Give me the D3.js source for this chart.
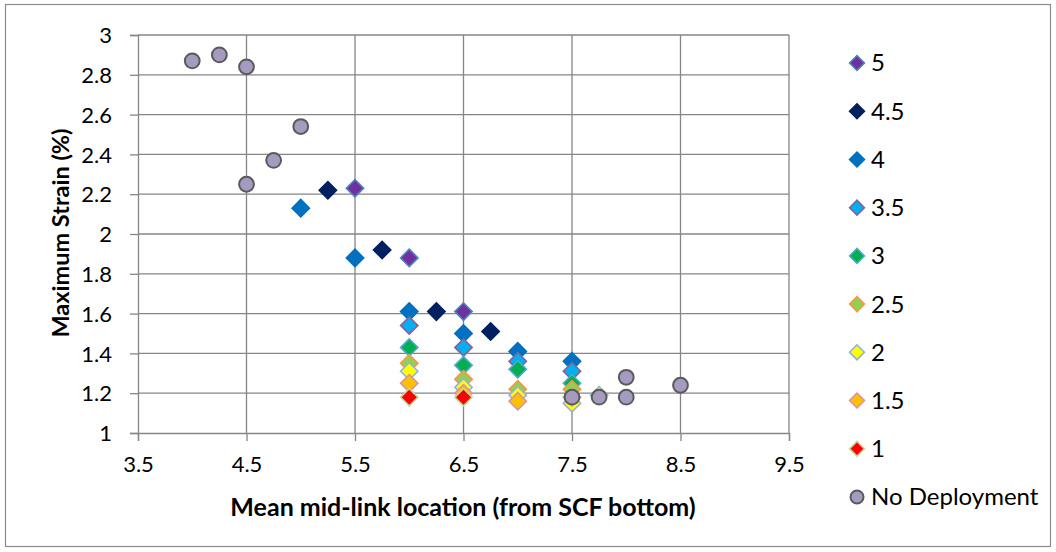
<!DOCTYPE html>
<html>
<head>
<meta charset="utf-8">
<script src="https://cdn.jsdelivr.net/npm/d3@7"></script>
<style>
  html, body { margin: 0; padding: 0; background: #fff; }
  svg { display: block; font-family: Lato, "Liberation Sans", sans-serif; }
</style>
</head>
<body>
<svg id="chart" width="1056" height="552"></svg>
<script>
// ---- data ----
const seriesNames = ["5", "4.5", "4", "3.5", "3", "2.5", "2", "1.5", "1", "No Deployment"];

const s5_x = [5.5, 6.0, 6.5];
const s5_y = [2.23, 1.88, 1.61];
const s45_x = [5.25, 5.75, 6.25, 6.75];
const s45_y = [2.22, 1.92, 1.61, 1.51];
const s4_x = [5.0, 5.5, 6.0, 6.5, 7.0, 7.5];
const s4_y = [2.13, 1.88, 1.61, 1.50, 1.41, 1.36];
const s35_x = [6.0, 6.5, 7.0, 7.5];
const s35_y = [1.54, 1.43, 1.36, 1.31];
const s3_x = [6.0, 6.5, 7.0, 7.5];
const s3_y = [1.43, 1.34, 1.32, 1.25];
const s25_x = [6.0, 6.5, 7.0, 7.5];
const s25_y = [1.35, 1.27, 1.22, 1.22];
const s2_x = [6.0, 6.5, 7.0, 7.5, 7.75];
const s2_y = [1.31, 1.23, 1.19, 1.15, 1.19];
const s15_x = [6.0, 6.5, 7.0, 7.5];
const s15_y = [1.25, 1.20, 1.16, 1.18];
const s1_x = [6.0, 6.5];
const s1_y = [1.18, 1.18];
const nd_x = [4.0, 4.25, 4.5, 4.5, 4.75, 5.0, 7.5, 7.75, 8.0, 8.0, 8.5];
const nd_y = [2.87, 2.90, 2.84, 2.25, 2.37, 2.54, 1.18, 1.18, 1.28, 1.18, 1.24];

const xTicks = [3.5, 4.5, 5.5, 6.5, 7.5, 8.5, 9.5];
const yTicks = [1, 1.2, 1.4, 1.6, 1.8, 2, 2.2, 2.4, 2.6, 2.8, 3];

const xTitle = "Mean mid-link location (from SCF bottom)";
const yTitle = "Maximum Strain (%)";

// ---- styles ----
const styles = [
  { fill: "#7030A0", stroke: "#4F81BD", shape: "diamond" },
  { fill: "#002060", stroke: "#002060", shape: "diamond" },
  { fill: "#0070C0", stroke: "#0070C0", shape: "diamond" },
  { fill: "#00B0F0", stroke: "#8064A2", shape: "diamond" },
  { fill: "#00B050", stroke: "#4BACC6", shape: "diamond" },
  { fill: "#92D050", stroke: "#F79646", shape: "diamond" },
  { fill: "#FFFF00", stroke: "#95B3D7", shape: "diamond" },
  { fill: "#FFC000", stroke: "#D99694", shape: "diamond" },
  { fill: "#FF0000", stroke: "#C3D69B", shape: "diamond" },
  { fill: "#A59BC1", stroke: "#5A5A5A", shape: "circle" }
];

const seriesX = [s5_x, s45_x, s4_x, s35_x, s3_x, s25_x, s2_x, s15_x, s1_x, nd_x];
const seriesY = [s5_y, s45_y, s4_y, s35_y, s3_y, s25_y, s2_y, s15_y, s1_y, nd_y];
const series = seriesNames.map((name, i) => ({
  name, style: styles[i],
  points: seriesX[i].map((x, j) => ({ x, y: seriesY[i][j] }))
}));

// ---- layout ----
const svg = d3.select("#chart");
const plot = { left: 138, right: 789, top: 35, bottom: 433 };

const x = d3.scaleLinear().domain([3.5, 9.5]).range([plot.left, plot.right]);
const y = d3.scaleLinear().domain([1, 3]).range([plot.bottom, plot.top]);

// outer border
svg.append("rect")
  .attr("x", 5.5).attr("y", 4.5).attr("width", 1045).attr("height", 542)
  .attr("fill", "#fff").attr("stroke", "#8c8c8c").attr("stroke-width", 1.2);

const gridColor = "#868686";

// gridlines
svg.append("g").selectAll("line.h").data(yTicks.slice(1)).join("line")
  .attr("x1", plot.left).attr("x2", plot.right)
  .attr("y1", d => y(d)).attr("y2", d => y(d))
  .attr("stroke", gridColor).attr("stroke-width", 1.3);
svg.append("g").selectAll("line.v").data(xTicks.slice(1)).join("line")
  .attr("y1", plot.top).attr("y2", plot.bottom)
  .attr("x1", d => x(d)).attr("x2", d => x(d))
  .attr("stroke", gridColor).attr("stroke-width", 1.3);

// axes
const yAxis = d3.axisLeft(y).tickValues(yTicks).tickSize(8).tickPadding(18)
  .tickFormat(d => d3.format("")(+d.toFixed(1)));
const xAxis = d3.axisBottom(x).tickValues(xTicks).tickSize(8).tickPadding(15)
  .tickFormat(d => d.toFixed(1));

const gy = svg.append("g").attr("transform", `translate(${plot.left},0)`).call(yAxis);
const gx = svg.append("g").attr("transform", `translate(0,${plot.bottom})`).call(xAxis);
[gx, gy].forEach(g => {
  g.select(".domain").attr("stroke", gridColor).attr("stroke-width", 1.3);
  g.selectAll(".tick line").attr("stroke", gridColor).attr("stroke-width", 1.3);
  g.selectAll(".tick text").attr("fill", "#000").style("font-size", "22px")
    .style("font-family", "Lato, 'Liberation Sans', sans-serif");
});
gy.selectAll(".tick text").attr("dy", "0.35em");

// axis titles
svg.append("text").text(xTitle)
  .attr("x", 463).attr("y", 516).attr("text-anchor", "middle")
  .style("font-size", "25px").style("font-weight", "bold").attr("fill", "#000");
svg.append("text").text(yTitle)
  .attr("transform", "translate(69,233) rotate(-90)").attr("text-anchor", "middle")
  .style("font-size", "23.5px").style("font-weight", "bold").attr("fill", "#000");

// markers
const diamondSize = 150;
const diamond = d3.symbol().type(d3.symbolSquare).size(diamondSize);
const marks = svg.append("g");
series.forEach(s => {
  const g = marks.append("g");
  if (s.style.shape === "circle") {
    g.selectAll("circle").data(s.points).join("circle")
      .attr("cx", d => x(d.x)).attr("cy", d => y(d.y)).attr("r", 7.4)
      .attr("fill", s.style.fill).attr("stroke", s.style.stroke).attr("stroke-width", 2);
  } else {
    g.selectAll("path").data(s.points).join("path")
      .attr("d", diamond)
      .attr("transform", d => `translate(${x(d.x)},${y(d.y)}) rotate(45)`)
      .attr("fill", s.style.fill).attr("stroke", s.style.stroke).attr("stroke-width", 1.6);
  }
});

// legend
const legend = svg.append("g");
const legendY = d3.scalePoint().domain(seriesNames).range([63, 497]);
series.forEach(s => {
  const cy = legendY(s.name);
  if (s.style.shape === "circle") {
    legend.append("circle").attr("cx", 857).attr("cy", cy).attr("r", 6.5)
      .attr("fill", s.style.fill).attr("stroke", s.style.stroke).attr("stroke-width", 2);
  } else {
    legend.append("path").attr("d", d3.symbol().type(d3.symbolSquare).size(110))
      .attr("transform", `translate(857,${cy}) rotate(45)`)
      .attr("fill", s.style.fill).attr("stroke", s.style.stroke).attr("stroke-width", 1.6);
  }
  legend.append("text").text(s.name)
    .attr("x", 871).attr("y", cy).attr("dy", "0.35em")
    .style("font-size", "24px").attr("fill", "#000");
});
</script>
</body>
</html>
